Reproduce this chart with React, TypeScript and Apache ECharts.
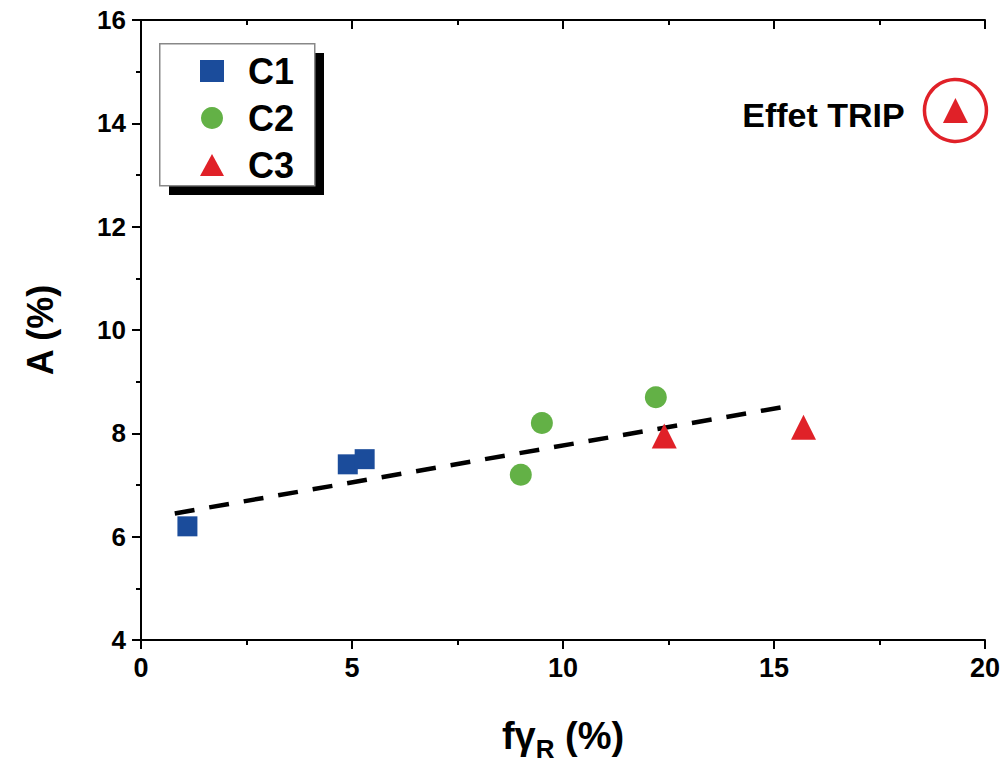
import React, { useEffect, useRef } from "react";
import * as echarts from "echarts";

const c1: number[][] = [[1.1, 6.2], [4.9, 7.4], [5.3, 7.5]];
const c2: number[][] = [[9.0, 7.2], [9.5, 8.2], [12.2, 8.7]];
const c3: number[][] = [[12.4, 7.95], [15.7, 8.12], [19.3, 14.25]];
const trip: number[][] = [[19.3, 14.25]];
const fitLine: number[][] = [[0.8, 6.45], [15.5, 8.55]];
const seriesNames = ["C1", "C2", "C3"];

const FONT = "'Liberation Sans', Arial, sans-serif";
const NARROW = "'Liberation Sans Narrow', 'Arial Narrow', 'Liberation Sans', Arial, sans-serif";

export default function App() {
  const ref = useRef<HTMLDivElement>(null);
  useEffect(() => {
    if (!ref.current) return;
    const chart = echarts.init(ref.current, null, { renderer: "svg" });
    const tickStyle = { color: "#000", width: 2 };
    const axisCommon = {
      type: "value" as const,
      axisLine: { show: true, lineStyle: { color: "#000", width: 2 } },
      splitLine: { show: false },
      minorTick: { show: true, splitNumber: 2, length: 5, lineStyle: tickStyle },
    };
    chart.setOption({
      animation: false,
      backgroundColor: "#fff",
      grid: { left: 141, top: 20, right: 18, bottom: 124 },
      xAxis: [
        {
          ...axisCommon,
          min: 0, max: 20, interval: 5,
          position: "bottom",
          axisTick: { show: true, inside: false, length: 9, lineStyle: tickStyle },
          axisLabel: { color: "#000", fontFamily: NARROW, fontWeight: "bold", fontSize: 27, margin: 14 },
          name: "{a|fγ}{b|R}{a| (%)}",
          nameLocation: "middle",
          nameGap: 70,
          nameTextStyle: {
            rich: {
              a: { fontFamily: NARROW, fontWeight: "bold", fontSize: 38, color: "#000" },
              b: { fontFamily: NARROW, fontWeight: "bold", fontSize: 26, color: "#000", verticalAlign: "bottom", padding: [26, 0, 0, 0] },
            },
          },
        },
        {
          ...axisCommon,
          min: 0, max: 20, interval: 5,
          position: "top",
          axisTick: { show: true, inside: true, length: 9, lineStyle: tickStyle },
          axisLabel: { show: false },
        },
      ],
      yAxis: [
        {
          ...axisCommon,
          min: 4, max: 16, interval: 2,
          position: "left",
          axisTick: { show: true, inside: false, length: 9, lineStyle: tickStyle },
          axisLabel: { color: "#000", fontFamily: FONT, fontWeight: "bold", fontSize: 26, margin: 15 },
          name: "A (%)",
          nameLocation: "middle",
          nameGap: 83,
          nameTextStyle: { fontFamily: FONT, fontWeight: "bold", fontSize: 36, color: "#000" },
        },
        {
          ...axisCommon,
          min: 4, max: 16, interval: 2,
          position: "right",
          axisTick: { show: true, inside: true, length: 9, lineStyle: tickStyle },
          axisLabel: { show: false },
        },
      ],
      legend: {
        orient: "vertical",
        left: 195,
        top: 48,
        itemWidth: 24,
        itemHeight: 22,
        itemGap: 11,
        data: seriesNames,
        textStyle: { fontFamily: FONT, fontWeight: "bold", fontSize: 36, color: "#000", padding: [0, 0, 0, 19] },
        z: 10,
      },
      graphic: [
        { type: "rect", left: 169, top: 53, shape: { width: 155, height: 142 }, style: { fill: "#000" }, z: 5 },
        { type: "rect", left: 159, top: 43, shape: { width: 155, height: 142 }, style: { fill: "#fff", stroke: "#888", lineWidth: 1.5 }, z: 6 },
      ],
      series: [
        {
          name: "fit",
          type: "line",
          data: fitLine,
          symbol: "none",
          lineStyle: { color: "#000", width: 4.5, type: [20, 15] },
          z: 1,
        },
        {
          name: "C1",
          type: "scatter",
          data: c1,
          symbol: "rect",
          symbolSize: 20,
          itemStyle: { color: "#1b4c9b", opacity: 1 },
          z: 3,
        },
        {
          name: "C2",
          type: "scatter",
          data: c2,
          symbol: "circle",
          symbolSize: 22,
          itemStyle: { color: "#63b146", opacity: 1 },
          z: 3,
        },
        {
          name: "C3",
          type: "scatter",
          data: c3,
          symbol: "triangle",
          symbolSize: 25,
          itemStyle: { color: "#e02128", opacity: 1 },
          z: 3,
        },
        {
          name: "TRIP",
          type: "scatter",
          data: trip,
          symbol: "circle",
          symbolSize: 62,
          itemStyle: { color: "rgba(0,0,0,0)", borderColor: "#e02128", borderWidth: 3.5, opacity: 1 },
          label: {
            show: true,
            position: "left",
            distance: 18,
            formatter: "Effet TRIP",
            fontFamily: FONT,
            fontWeight: "bold",
            fontSize: 34,
            color: "#000",
            offset: [0, 5],
          },
          z: 2,
        },
      ],
    });
    return () => chart.dispose();
  }, []);
  return <div ref={ref} style={{ width: 1003, height: 767, position: "absolute", left: 0, top: 0 }} />;
}
